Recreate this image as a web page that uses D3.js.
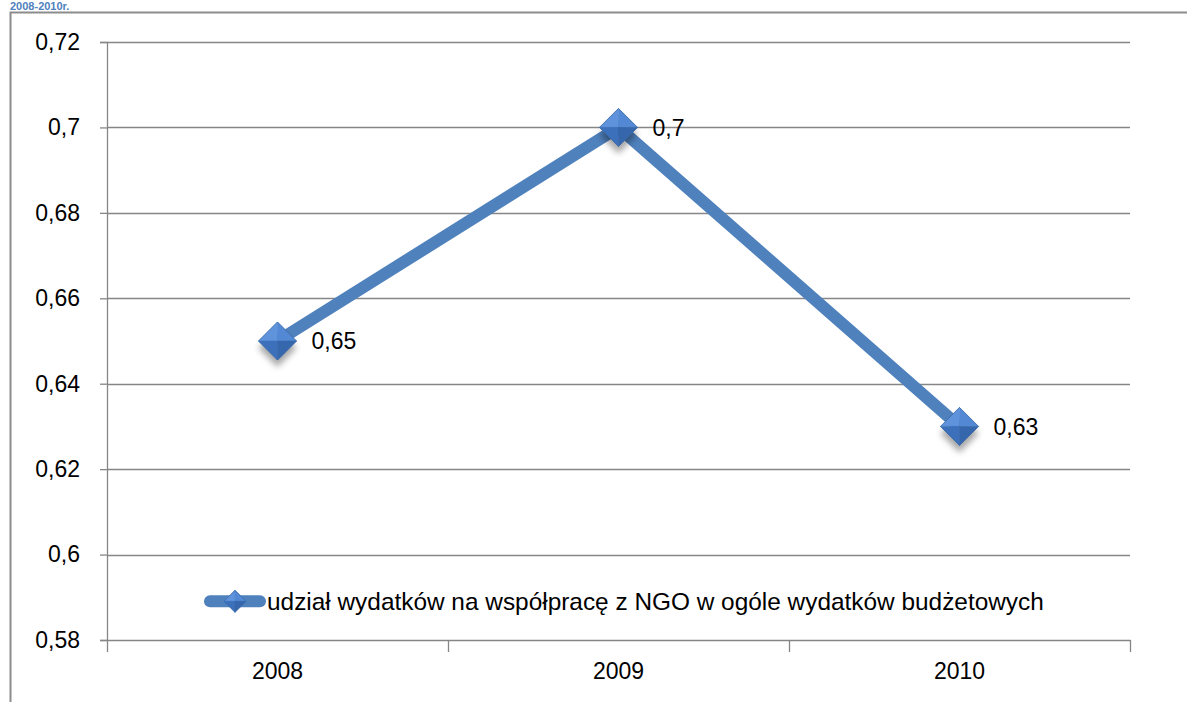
<!DOCTYPE html>
<html>
<head>
<meta charset="utf-8">
<script src="https://cdn.jsdelivr.net/npm/d3@7"></script>
<style>
  body { margin: 0; background: #fff; }
  svg { display: block; }
  text { font-family: "Liberation Sans", "DejaVu Sans", sans-serif; fill: #000; }
</style>
</head>
<body>
<script>
var years = ["2008", "2009", "2010"];
var shares = [0.65, 0.7, 0.63];
var yTicks = [0.58, 0.6, 0.62, 0.64, 0.66, 0.68, 0.7, 0.72];
var seriesName = "udział wydatków na współpracę z NGO w ogóle wydatków budżetowych";
var caption = "2008-2010r.";

var W = 1187, H = 702;
var margin = {top: 42, right: 57, bottom: 62, left: 107},
    width = W - margin.left - margin.right,
    height = H - margin.top - margin.bottom;

var fmt = function(v) { return String(+v.toFixed(2)).replace(".", ","); };

var svg = d3.select("body").append("svg")
    .attr("width", W)
    .attr("height", H);

var defs = svg.append("defs");
var blur = defs.append("filter").attr("id", "shadow")
    .attr("x", "-50%").attr("y", "-50%").attr("width", "200%").attr("height", "200%");
blur.append("feGaussianBlur").attr("stdDeviation", 3);

// caption above the frame
svg.append("text")
    .attr("x", 10).attr("y", 10)
    .style("font-size", "11px")
    .style("font-weight", "bold")
    .style("fill", "#4f81bd")
    .text(caption);

// outer frame (left and top only visible)
svg.append("path")
    .attr("d", "M10.5," + H + "V12.5H" + W)
    .attr("fill", "none")
    .attr("stroke", "#8c8c8c")
    .attr("stroke-width", 2);

var g = svg.append("g")
    .attr("transform", "translate(" + margin.left + "," + margin.top + ")");

var x = d3.scaleBand().domain(years).range([0, width]);
var y = d3.scaleLinear().domain([0.58, 0.72]).range([height, 0]);

// gridlines
g.append("g")
  .selectAll("line")
  .data(yTicks.slice(1))
  .enter().append("line")
    .attr("x1", 0).attr("x2", width)
    .attr("y1", function(d) { return Math.round(y(d)) + 0.5; })
    .attr("y2", function(d) { return Math.round(y(d)) + 0.5; })
    .attr("stroke", "#868686")
    .attr("stroke-width", 1.3);

// y axis
var yAxis = d3.axisLeft(y).tickValues(yTicks).tickFormat(fmt).tickSize(7).tickPadding(20);
var ya = g.append("g").attr("class", "axis").call(yAxis);

// x axis
var xAxis = d3.axisBottom(x).tickSize(0).tickPadding(23);
var xa = g.append("g").attr("class", "axis")
    .attr("transform", "translate(0," + height + ")")
    .call(xAxis);
xa.selectAll(".tick line").remove();
xa.append("g").selectAll("line")
    .data(d3.range(years.length + 1))
  .enter().append("line")
    .attr("x1", function(i) { return Math.round(i * x.step()) + 0.5; })
    .attr("x2", function(i) { return Math.round(i * x.step()) + 0.5; })
    .attr("y1", 0).attr("y2", 12)
    .attr("stroke", "#868686")
    .attr("stroke-width", 1.3);

svg.selectAll(".axis .domain").attr("stroke", "#868686").attr("stroke-width", 1.3);
ya.selectAll(".tick line").attr("stroke", "#868686").attr("stroke-width", 1.3);
svg.selectAll(".axis text")
    .style("font-family", "\"Liberation Sans\", sans-serif")
    .style("font-size", "23px")
    .attr("fill", "#000");

var cx = function(d, i) { return x(years[i]) + x.bandwidth() / 2; };

// series line
var line = d3.line()
    .x(function(d, i) { return cx(d, i); })
    .y(function(d) { return y(d); });

g.append("path")
    .datum(shares)
    .attr("d", line)
    .attr("fill", "none")
    .attr("stroke", "#4f81bd")
    .attr("stroke-width", 12)
    .attr("stroke-linejoin", "miter");

function diamond(sel, r, shadow) {
  if (shadow) {
    sel.append("path")
        .attr("d", "M0," + (-r + 7) + "L" + r + ",7L0," + (r + 7) + "L" + (-r) + ",7Z")
        .attr("fill", "rgba(0,0,0,0.35)")
        .attr("filter", "url(#shadow)");
  }
  var facets = [
    {d: "M0,0L0," + (-r) + "L" + (-r) + ",0Z", c: "#5f93dc"},
    {d: "M0,0L0," + (-r) + "L" + r + ",0Z", c: "#5389d4"},
    {d: "M0,0L" + (-r) + ",0L0," + r + "Z", c: "#3c70bb"},
    {d: "M0,0L" + r + ",0L0," + r + "Z", c: "#3666ab"}
  ];
  facets.forEach(function(f) {
    sel.append("path").attr("d", f.d).attr("fill", f.c)
        .attr("stroke", f.c).attr("stroke-width", 0.5);
  });
  sel.append("path")
      .attr("d", "M0," + (-r) + "L" + r + ",0L0," + r + "L" + (-r) + ",0Z")
      .attr("fill", "none")
      .attr("stroke", "#3a69ab")
      .attr("stroke-width", 0.8);
}

var pts = g.selectAll(".pt")
    .data(shares)
  .enter().append("g")
    .attr("class", "pt")
    .attr("transform", function(d, i) { return "translate(" + cx(d, i) + "," + y(d) + ")"; });
pts.each(function() { diamond(d3.select(this), 19, true); });

pts.append("text")
    .attr("x", 34)
    .attr("dy", "0.36em")
    .style("font-size", "23px")
    .text(fmt);

// legend
var lg = g.append("g")
    .attr("transform", "translate(98," + (y(0.59) + 4) + ")");
lg.append("line")
    .attr("x1", 5).attr("x2", 55)
    .attr("stroke", "#4f81bd")
    .attr("stroke-width", 12)
    .attr("stroke-linecap", "round");
var lgd = lg.append("g").attr("transform", "translate(30,0)");
diamond(lgd, 11, false);
lg.append("text")
    .attr("x", 62)
    .attr("dy", "0.36em")
    .style("font-size", "24.4px")
    .text(seriesName);
</script>
</body>
</html>
